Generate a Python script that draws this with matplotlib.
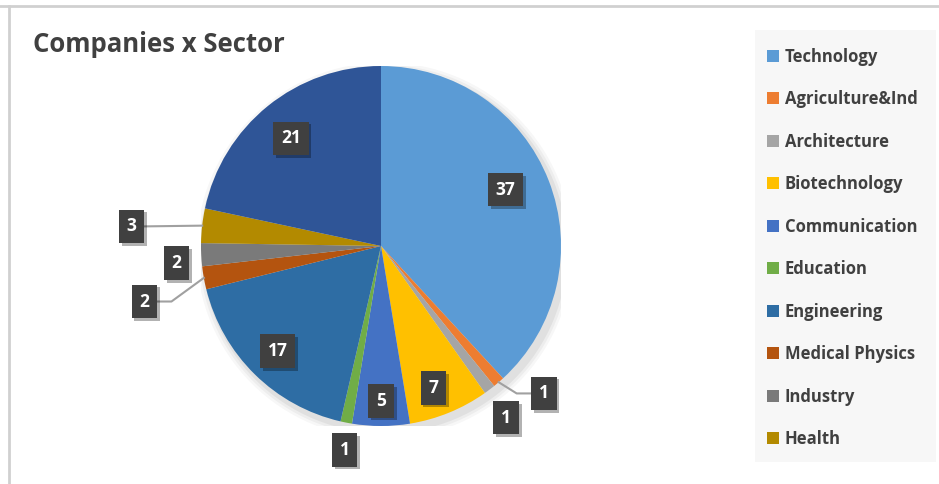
import matplotlib.pyplot as plt
import matplotlib.patheffects as pe
from matplotlib.patches import Rectangle, Patch
import numpy as np

sectors = ['Technology', 'Agriculture&Ind', 'Architecture', 'Biotechnology',
           'Communication', 'Education', 'Engineering', 'Medical Physics',
           'Industry', 'Health', 'Other']
companies = [37, 1, 1, 7, 5, 1, 17, 2, 2, 3, 21]
colors = ['#5B9BD5', '#ED7D31', '#A5A5A5', '#FFC000', '#4472C4', '#70AD47',
          '#2E6DA4', '#B4540F', '#7A7A7A', '#B38A00', '#2F5597']

# label placement: radius as fraction of pie radius, extra angle (deg), leader line
label_r = [0.76, 1.22, 1.18, 0.84, 0.86, 1.15, 0.82, 1.35, 1.14, 1.39, 0.78]
label_da = [3, 7, -1, -2, 0, 1, 0, 3, 2, 2, 1]
leader = [False, True, False, False, False, False, False, True, False, True, False]

W, H = 939, 484
fig = plt.figure(figsize=(W / 100, H / 100), dpi=100)
fig.patch.set_facecolor('white')

# outer chart frame (top + left edges)
fig.add_artist(plt.Line2D([0, 1], [1 - 6 / H, 1 - 6 / H], color='#D0D0D0', lw=2))
fig.add_artist(plt.Line2D([9 / W, 9 / W], [0, 1 - 6 / H], color='#D0D0D0', lw=2))

fig.text(33 / W, 1 - 45 / H, 'Companies x Sector', fontsize=18.5, fontweight='bold',
         color='#404040', va='center', ha='left', family='Open Sans')

cx, cy, R = 381, 246, 180
ax = fig.add_axes([(cx - R) / W, (H - cy - R) / H, 2 * R / W, 2 * R / H])

# soft shadow behind the pie
for i, a in enumerate([0.05, 0.04, 0.03]):
    ax.add_patch(plt.Circle((0.02, -0.025), 1.0 + 0.015 * (i + 1), color='#000000',
                            alpha=a, lw=0, zorder=0))

wedges, _ = ax.pie(companies, colors=colors, startangle=90, counterclock=False,
                   radius=1, wedgeprops=dict(linewidth=0))
for w in wedges:
    w.set_zorder(2)
ax.set_xlim(-1, 1)
ax.set_ylim(-1, 1)
ax.axis('off')

box = dict(boxstyle='square,pad=0.45', fc='#404040', ec='none')
shadow = [pe.withSimplePatchShadow(offset=(2, -2), shadow_rgbFace='#000000', alpha=0.3)]
for w, v, r, da, ld in zip(wedges, companies, label_r, label_da, leader):
    mid = np.deg2rad((w.theta1 + w.theta2) / 2 + da)
    x, y = r * np.cos(mid), r * np.sin(mid)
    t = ax.text(x, y, str(v), ha='center', va='center', color='white',
                fontsize=12.5, fontweight='bold', bbox=box, zorder=5,
                family='Open Sans')
    t.get_bbox_patch().set_path_effects(shadow)
    if ld:
        m = np.deg2rad((w.theta1 + w.theta2) / 2)
        ex, ey = np.cos(m), np.sin(m)
        if x > 0:
            ax.plot([ex, ex + 0.1, x - 0.07], [ey, y, y], color='#A0A0A0', lw=1.5,
                    zorder=3, clip_on=False)
        else:
            ax.plot([ex, ex - 0.18 if abs(y - ey) > 0.05 else x + 0.07, x + 0.07],
                    [ey, y, y], color='#A0A0A0', lw=1.5, zorder=3, clip_on=False)

# legend background panel
fig.add_artist(Rectangle((755 / W, 1 - 462 / H), 181 / W, 432 / H,
                         transform=fig.transFigure, fc='#F7F7F7', ec='none', zorder=0))
handles = [Patch(fc=c, ec='none') for c in colors[:10]]
leg = fig.legend(handles, sectors[:10], loc='upper left',
                 bbox_to_anchor=(760 / W, 1 - 41 / H), frameon=False,
                 handlelength=0.75, handleheight=0.75,
                 handletextpad=0.35, labelspacing=1.47, borderaxespad=0,
                 prop=dict(family='Open Sans', weight='bold', size=12))
for t in leg.get_texts():
    t.set_color('#404040')

fig.savefig('out.png', dpi=100)
